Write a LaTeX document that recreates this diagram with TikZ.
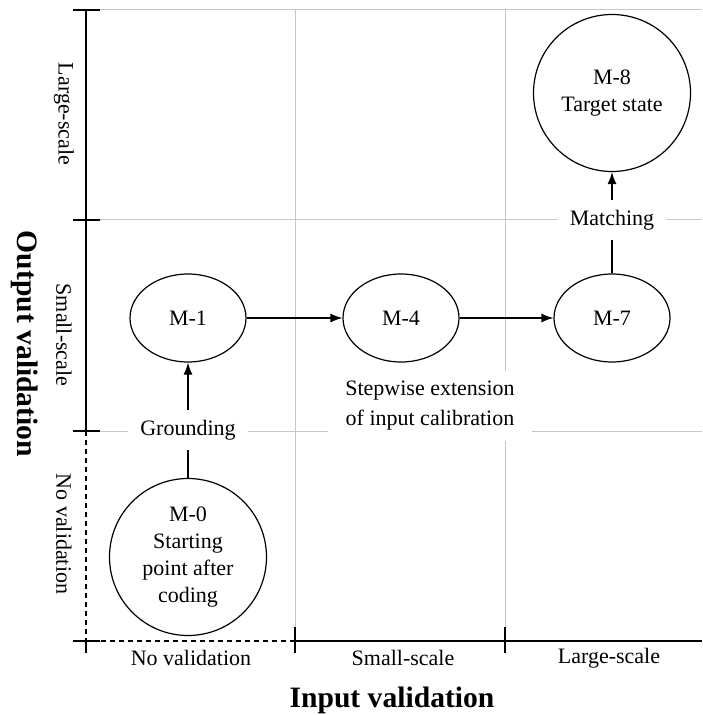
\documentclass[tikz,border=0pt]{standalone}
\usepackage{fontspec}
\setmainfont{Liberation Serif}
\usetikzlibrary{arrows.meta, shapes.geometric}

\begin{document}
\begin{tikzpicture}[x=0.5pt, y=-0.5pt,
	grid/.style={draw=black!22, line width=0.5pt},
	axis/.style={line width=0.6pt},
	nodash/.style={dash pattern=on 2.5pt off 2pt},
	axislabel/.style={font=\fontsize{11}{15}\selectfont},
	axistitle/.style={font=\fontsize{14.8}{18}\selectfont\bfseries},
	oval/.style={draw, ellipse, line width=0.6pt, minimum width=58pt, minimum height=44pt, inner sep=0pt, font=\fontsize{11}{13.5}\selectfont},
	round/.style={draw, circle, line width=0.6pt, minimum size=78.5pt, inner sep=0pt, align=center, font=\fontsize{11}{13.5}\selectfont},
	tag/.style={fill=white, inner xsep=6pt, inner ysep=5pt, align=center, font=\fontsize{11}{15}\selectfont},
	link/.style={-{Latex[length=6pt,width=4.5pt]}, line width=0.6pt}]
	\useasboundingbox (0,0) rectangle (702,715);
	% grid
	\foreach \y in {10,220,431}
		\draw[grid] (100,\y) -- (702,\y);
	\foreach \x in {295,505}
		\draw[grid] (\x,10) -- (\x,627);
	% axes
	\draw[axis] (86,10) -- (86,431);
	\draw[axis, nodash] (86,431) -- (86,641) -- (295,641);
	\draw[axis] (295,641) -- (702,641);
	\foreach \y in {10,220,431,641}
		\draw[axis] (73,\y) -- (100,\y);
	\foreach \x in {295,505}
		\draw[axis] (\x,627) -- (\x,653);
	\draw[axis] (86,641) -- (86,653);
	\node[axislabel, rotate=-90] (ylarge) at (64,114) {Large-scale};
	\node[axislabel, rotate=-90] (ysmall) at (64,335) {Small-scale};
	\node[axislabel, rotate=-90] (ynone) at (64,534) {No validation};
	\node[axistitle, rotate=-90] (ytitle) at (25,344) {Output validation};
	\node[axislabel] (xnone) at (191,658) {No validation};
	\node[axislabel] (xsmall) at (403,658) {Small-scale};
	\node[axislabel] (xlarge) at (609,658) {Large-scale};
	\node[axistitle] (xtitle) at (392,700) {Input validation};
	% states
	\node[round] (m0) at (188,557) {M-0\\Starting\\point after\\coding};
	\node[oval] (m1) at (188,318) {M-1};
	\node[oval] (m4) at (401,318) {M-4};
	\node[oval] (m7) at (612,318) {M-7};
	\node[round] (m8) at (612,93) {M-8\\Target state};
	\node[tag] (ground) at (188,430) {Grounding};
	\node[tag] (match) at (612,220) {Matching};
	\node[tag, inner xsep=8.5pt] (stepwise) at (430,406) {Stepwise extension\\of input calibration};
	\draw[axis] (m0) -- (ground);
	\draw[link] (ground) -- (m1);
	\draw[link] (m1) -- (m4);
	\draw[link] (m4) -- (m7);
	\draw[axis] (m7) -- (match);
	\draw[link] (match) -- (m8);
\end{tikzpicture}
\end{document}
